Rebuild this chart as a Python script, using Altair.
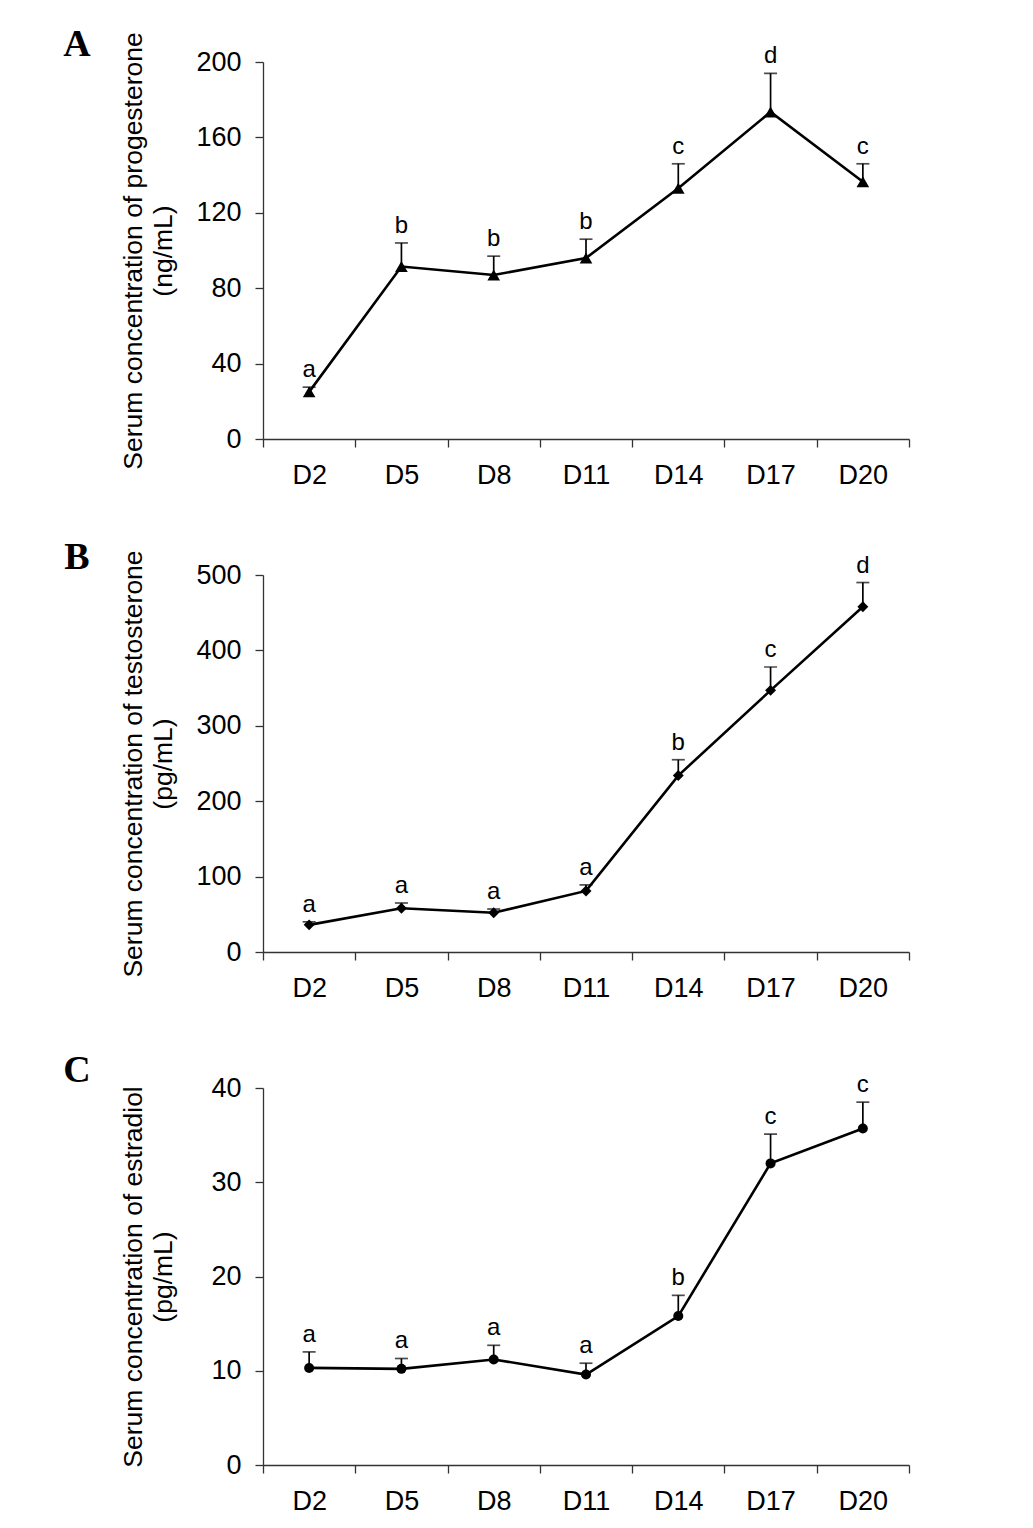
import pandas as pd
import altair as alt

# --- data ---
days = ["D2", "D5", "D8", "D11", "D14", "D17", "D20"]

prog_mean = [25, 91.5, 87, 96, 133, 173.5, 136.5]
prog_se = [2.5, 12.5, 10, 10, 13, 20.5, 9.5]
prog_letters = ["a", "b", "b", "b", "c", "d", "c"]

testo_mean = [36, 58, 52, 81, 234, 347, 458]
testo_se = [4, 7, 5, 8, 21, 31, 32]
testo_letters = ["a", "a", "a", "a", "b", "c", "d"]

estr_mean = [10.3, 10.2, 11.2, 9.6, 15.8, 32.0, 35.7]
estr_se = [1.7, 1.1, 1.5, 1.2, 2.2, 3.1, 2.8]
estr_letters = ["a", "a", "a", "a", "b", "c", "c"]

panel_letters = ["A", "B", "C"]

FONT = "Liberation Sans"
AXIS_COLOR = "#333333"
W, H = 646, 377


def make_panel(mean, se, letters, shape, size, ymax, ystep, title, panel):
    df = pd.DataFrame({"day": days, "mean": mean, "se": se, "letter": letters})
    df["upper"] = df["mean"] + df["se"]

    x = alt.X(
        "day:N", sort=days,
        scale=alt.Scale(type="band", paddingInner=0, paddingOuter=0),
        axis=alt.Axis(
            title=None, labelAngle=0, labelFontSize=27, labelFont=FONT, labelColor="black",
            labelPadding=15, tickBand="extent", tickSize=8, tickColor=AXIS_COLOR,
            tickWidth=1.3, domainColor=AXIS_COLOR, domainWidth=1.3, grid=False,
        ),
    )
    y = alt.Y(
        "mean:Q",
        scale=alt.Scale(domain=[0, ymax], nice=False),
        axis=alt.Axis(
            title=title, values=list(range(0, ymax + 1, ystep)), labelFontSize=27,
            labelFont=FONT, labelColor="black", labelPadding=14, tickSize=8,
            tickColor=AXIS_COLOR, tickWidth=1.3, domainColor=AXIS_COLOR, domainWidth=1.3,
            grid=False, titleFont=FONT, titleFontSize=26.5, titleFontWeight="normal",
            titleColor="black", titleLineHeight=30, titleX=-116, titleY=H / 2,
            titleAngle=270, titleAlign="center", titleBaseline="bottom",
        ),
    )

    base = alt.Chart(df)
    line = base.mark_line(color="black", strokeWidth=2.6).encode(x=x, y=y)
    err = base.mark_rule(color="black", strokeWidth=1.7).encode(x=x, y="mean:Q", y2="upper:Q")
    cap = base.mark_tick(color="black", thickness=1.7, size=13).encode(x=x, y="upper:Q")
    pts = base.mark_point(shape=shape, filled=True, color="black", size=size, opacity=1).encode(x=x, y="mean:Q")
    lbl = base.mark_text(font=FONT, fontSize=24, baseline="alphabetic", dy=-10, color="black").encode(
        x=x, y="upper:Q", text="letter:N"
    )
    tag = alt.Chart(pd.DataFrame({"p": [panel]})).mark_text(
        font="Liberation Serif", fontSize=38, fontWeight="bold", color="black",
        align="center", baseline="middle",
    ).encode(x=alt.value(-186), y=alt.value(-17), text="p:N")

    return alt.layer(err, cap, line, pts, lbl, tag).properties(width=W, height=H)


pA = make_panel(prog_mean, prog_se, prog_letters, "triangle-up", 160, 200, 40,
                ["Serum concentration of progesterone", "(ng/mL)"], panel_letters[0])
pB = make_panel(testo_mean, testo_se, testo_letters, "diamond", 120, 500, 100,
                ["Serum concentration of  testosterone", "(pg/mL)"], panel_letters[1])
pC = make_panel(estr_mean, estr_se, estr_letters, "circle", 100, 40, 10,
                ["Serum concentration of estradiol", "(pg/mL)"], panel_letters[2])

chart = alt.vconcat(pA, pB, pC, spacing=136, bounds="flush").properties(
    padding={"left": 55, "top": 18, "right": 5, "bottom": 5}
).configure(background="white").configure_view(stroke="transparent", strokeWidth=0)

chart.save("out.html", embed_options={"renderer": "svg", "actions": False})
